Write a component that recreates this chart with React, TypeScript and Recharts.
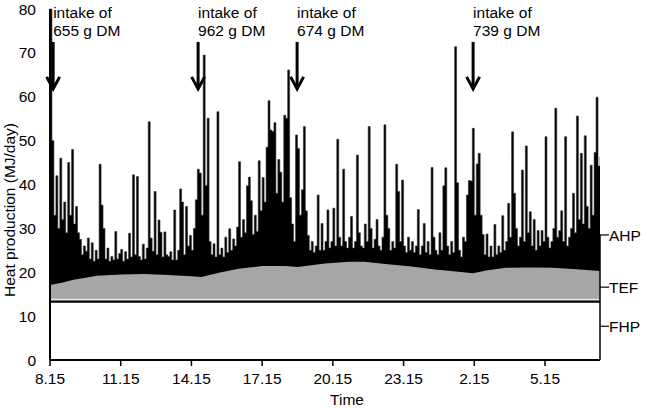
import React from "react";
import { ComposedChart, Area, XAxis, YAxis, ReferenceLine } from "recharts";

// AHP every 5 minutes from 8.15
const ahp = [
  80, 50, 33, 42, 30, 46, 32, 36, 29, 45, 33, 48, 31, 35, 29, 27.5, 24, 26, 24.8, 27.8,
  23, 26.7, 22.5, 25, 23, 44.6, 35.3, 30, 23, 25.5, 22.5, 23.6, 22.8, 29.3, 23, 24.3, 25.2, 22.5, 24.7, 23,
  28.9, 23.5, 42.2, 24, 41.8, 23.6, 22.8, 26.4, 23, 25.5, 54.3, 27.8, 24.8, 38.4, 24, 31.9, 29.1, 23.5, 29.2, 24,
  23.6, 24.7, 22.8, 34.2, 22.8, 25, 39, 36, 24, 35, 26, 28.4, 25, 30, 36.5, 43.5, 42.6, 33, 69.5, 39.8,
  55.1, 27, 24, 26.5, 23.5, 56.6, 24, 25.5, 23.5, 28, 24.5, 29.9, 25, 27.6, 26, 30.3, 45.2, 28, 32, 29,
  39.7, 41.7, 36.3, 28.6, 33, 29.3, 45.4, 34, 41.6, 36, 48.5, 59.1, 52.4, 52.1, 54.1, 38, 45.7, 42.8, 36, 55.8,
  55.1, 66.1, 37, 31, 27, 51.3, 48.2, 33, 38.8, 53.2, 34, 28.4, 25, 27, 24.5, 26, 37.6, 25, 31.1, 25,
  27, 34.2, 25.5, 27, 34.6, 26, 50.3, 28, 26, 43.5, 27, 25.5, 28, 32.7, 25.5, 27, 46.7, 29, 26, 25.5,
  31, 27, 53.2, 30, 25.5, 27.5, 32, 26, 25, 28, 53.6, 33, 30, 25, 27, 25.5, 44.6, 38.4, 27, 41,
  26, 24.5, 28, 25, 27, 24.5, 26, 34.3, 24, 26, 31.1, 24.5, 27, 24, 43.9, 28, 25, 24, 29, 25,
  39.7, 43.8, 26, 24, 27, 24.5, 71.4, 40.4, 25, 23.5, 28, 27, 37.6, 40.9, 40.8, 52.8, 33, 44.7, 47.1, 33,
  28.6, 24, 28.7, 23.5, 26, 23.5, 30.9, 24, 26, 24.5, 32.9, 25, 27, 35.7, 28, 52, 38, 30, 26, 28,
  43.3, 27, 48.8, 29, 33.8, 26, 32, 25, 29.5, 26, 29.5, 27, 50.9, 28, 25.5, 27, 30, 57.4, 28, 29.5,
  34, 27, 50.9, 26, 28, 30, 38, 29, 55.6, 32, 47.1, 31, 51.1, 35, 30, 44.4, 33, 47.3, 59.9, 44.2,
  46.3,
];
const stepMin = 5;

// TEF upper boundary (minutes after 8.15, MJ/day)
const tefMinutes = [0, 30, 60, 120, 180, 240, 300, 360, 385, 430, 480, 540, 600, 630, 700, 760, 800, 860, 920, 980, 1040, 1077, 1110, 1160, 1220, 1280, 1340, 1400];
const tefValues = [17.1, 17.6, 18.3, 19.2, 19.5, 19.6, 19.4, 19.1, 18.9, 19.9, 20.8, 21.4, 21.4, 21.2, 22.0, 22.4, 22.4, 21.8, 21.3, 20.6, 20.1, 19.8, 20.4, 21.0, 21.1, 21.0, 20.7, 20.3];

const fhpLevel = 13.3;

const xTicks = [0, 180, 360, 540, 720, 900, 1080, 1260];
const xLabels = ["8.15", "11.15", "14.15", "17.15", "20.15", "23.15", "2.15", "5.15"];
const yTicks = [0, 10, 20, 30, 40, 50, 60, 70, 80];

const partTicks = [28.5, 16.6, 7.7];
const partLabels = ["AHP", "TEF", "FHP"];

const intakeMinutes = [8, 377, 629, 1077];
const intakeLabels = ["655 g DM", "962 g DM", "674 g DM", "739 g DM"];

const ahpData = ahp.map((v, i) => ({ m: i * stepMin, ahp: v }));
const tefData = tefMinutes.map((m, i) => ({ m, tef: tefValues[i] }));
const fhpData = [
  { m: 0, fhp: fhpLevel },
  { m: 1400, fhp: fhpLevel },
];

const font = "'Liberation Sans', Arial, sans-serif";
const fs = 15.5;

const Arrow = (label: string) => (props: any) => {
  const { x1, y1, y2 } = props;
  return (
    <g>
      <text x={x1} y={y1 - 24} fontSize={fs} fontFamily={font} fill="#000">
        intake of
      </text>
      <text x={x1} y={y1 - 6} fontSize={fs} fontFamily={font} fill="#000">
        {label}
      </text>
      <line x1={x1} y1={y1} x2={x1} y2={y2 - 2} stroke="#000" strokeWidth={3} />
      <polyline
        points={`${x1 - 6.5},${y2 - 12} ${x1},${y2} ${x1 + 6.5},${y2 - 12}`}
        fill="none"
        stroke="#000"
        strokeWidth={3}
      />
    </g>
  );
};

const PartTick = (label: string) => (props: any) => {
  const { x2, y2 } = props;
  return (
    <g>
      <line x1={x2} y1={y2} x2={x2 + 9} y2={y2} stroke="#000" strokeWidth={1.2} />
      <text x={x2 + 9} y={y2} dy="0.36em" fontSize={fs} fontFamily={font} fill="#000">
        {label}
      </text>
    </g>
  );
};

export default function App() {
  return (
    <div style={{ position: "absolute", left: 0, top: 0, width: 645, height: 408, background: "#fff" }}>
      <ComposedChart
        width={645}
        height={408}
        margin={{ top: 9, right: 45, left: 0, bottom: 0 }}
        style={{ fontFamily: font }}
      >
        <XAxis
          dataKey="m"
          type="number"
          domain={[0, 1400]}
          ticks={xTicks}
          tickFormatter={(v: number) => xLabels[xTicks.indexOf(v)]}
          allowDataOverflow
          height={48}
          tickSize={6}
          tickMargin={7}
          stroke="#000"
          axisLine={{ stroke: "#000", strokeWidth: 2 }}
          tickLine={{ stroke: "#000", strokeWidth: 1.5 }}
          tick={{ fontSize: fs, fill: "#000" }}
          label={{
            content: () => (
              <text x={347} y={405} textAnchor="middle" fontSize={fs} fontFamily={font} fill="#000">
                Time
              </text>
            ),
          }}
        />
        <YAxis
          yAxisId="l"
          type="number"
          domain={[0, 80]}
          ticks={yTicks}
          width={50}
          tickSize={0}
          tickMargin={14}
          tickLine={false}
          axisLine={{ stroke: "#000", strokeWidth: 2 }}
          tick={{ fontSize: fs, fill: "#000" }}
          label={{
            content: () => (
              <text
                x={15}
                y={210}
                transform="rotate(-90 15 210)"
                textAnchor="middle"
                fontSize={fs}
                fontFamily={font}
                fill="#000"
              >
                Heat production (MJ/day)
              </text>
            ),
          }}
        />
        <Area
          yAxisId="l"
          data={ahpData}
          dataKey="ahp"
          type="stepAfter"
          fill="#000"
          fillOpacity={1}
          stroke="#333"
          strokeWidth={0.6}
          isAnimationActive={false}
          dot={false}
          activeDot={false}
        />
        <Area
          yAxisId="l"
          data={tefData}
          dataKey="tef"
          type="linear"
          fill="#a6a6a6"
          fillOpacity={1}
          stroke="none"
          isAnimationActive={false}
          dot={false}
          activeDot={false}
        />
        <Area
          yAxisId="l"
          data={fhpData}
          dataKey="fhp"
          type="linear"
          fill="#fff"
          fillOpacity={1}
          stroke="#000"
          strokeWidth={2.2}
          isAnimationActive={false}
          dot={false}
          activeDot={false}
        />
        <ReferenceLine yAxisId="l" y={13.8} stroke="#e4e4e4" strokeWidth={1.4} />
        <ReferenceLine
          yAxisId="l"
          segment={[
            { x: 1400, y: 0 },
            { x: 1400, y: 28.5 },
          ]}
          stroke="#000"
          strokeWidth={1.5}
        />
        {partTicks.map((v, i) => (
          <ReferenceLine key={v} yAxisId="l" y={v} shape={PartTick(partLabels[i])} />
        ))}
        {intakeMinutes.map((m, i) => (
          <ReferenceLine
            key={m}
            yAxisId="l"
            segment={[
              { x: m, y: 72.5 },
              { x: m, y: 61.8 },
            ]}
            shape={Arrow(intakeLabels[i])}
          />
        ))}
      </ComposedChart>
    </div>
  );
}
